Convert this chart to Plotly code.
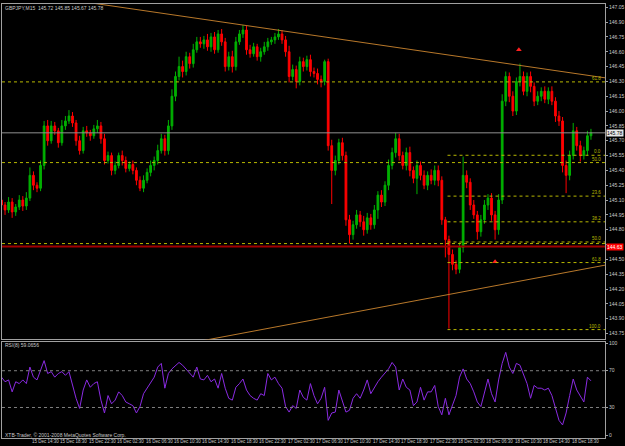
import plotly.graph_objects as go

# ---------------- data (30-min sampling of the GBPJPY M15 chart) ----------------
first_open = 145.10
closes = [
    145.05, 145.00, 145.08, 144.98, 145.03, 145.10, 145.04, 145.12,
    145.35, 145.25, 145.22, 145.45,
    145.85, 145.70, 145.85, 145.80, 145.68, 145.85, 145.90, 145.95, 145.88, 145.70, 145.60,
    145.80, 145.78, 145.75, 145.82, 145.85, 145.72, 145.50, 145.55, 145.40,
    145.45, 145.55, 145.50, 145.42, 145.46, 145.40, 145.30, 145.22,
    145.30, 145.38, 145.45, 145.50, 145.60, 145.72, 145.60, 145.85,
    146.15, 146.35, 146.45, 146.40, 146.55, 146.48, 146.62, 146.70,
    146.68, 146.72, 146.65, 146.75, 146.62, 146.78, 146.70, 146.45,
    146.55, 146.45, 146.70, 146.78, 146.82, 146.62, 146.58, 146.65,
    146.55, 146.60, 146.65, 146.70, 146.72, 146.75, 146.78, 146.72,
    146.60, 146.35, 146.42, 146.30, 146.50, 146.45, 146.52, 146.40,
    146.38, 146.32, 146.30, 146.50, 145.65, 145.40, 145.50, 145.68,
    145.55, 144.90, 144.75, 144.85, 144.95, 144.88, 144.80, 144.92,
    144.85, 145.00, 145.15, 145.08, 145.25, 145.45, 145.58, 145.72,
    145.55, 145.45, 145.58, 145.40, 145.32, 145.45, 145.35, 145.25,
    145.35, 145.30, 145.40, 145.30, 144.90, 144.70, 144.55, 144.45,
    144.40, 144.62, 145.35, 145.28, 145.05, 144.95, 144.78, 144.90,
    145.05, 145.12, 144.95, 144.80, 145.10, 146.10, 146.35, 146.15,
    146.00, 146.30, 146.35, 146.20, 146.35, 146.25, 146.10, 146.15,
    146.20, 146.12, 146.20, 146.10, 145.95, 145.90, 145.45, 145.35,
    145.55, 145.80, 145.65, 145.55, 145.60, 145.75, 145.78,
]
upper_wick = [
    0.04, 0.03, 0.05, 0.04, 0.03, 0.05, 0.04, 0.06,
    0.08, 0.04, 0.03, 0.05,
    0.05, 0.06, 0.05, 0.04, 0.03, 0.06, 0.05, 0.06, 0.04, 0.03, 0.05,
    0.04, 0.05, 0.03, 0.04, 0.06, 0.04, 0.05, 0.04, 0.03,
    0.04, 0.03, 0.05, 0.04, 0.03, 0.04, 0.03, 0.04,
    0.05, 0.04, 0.05, 0.04, 0.06, 0.05, 0.04, 0.06,
    0.07, 0.05, 0.10, 0.06, 0.05, 0.04, 0.06, 0.05,
    0.05, 0.04, 0.06, 0.04, 0.05, 0.04, 0.05, 0.04,
    0.05, 0.06, 0.05, 0.04, 0.05, 0.04, 0.05, 0.04,
    0.03, 0.04, 0.05, 0.04, 0.03, 0.04, 0.05, 0.04,
    0.04, 0.06, 0.05, 0.04, 0.05, 0.04, 0.04, 0.05,
    0.04, 0.05, 0.04, 0.02, 0.03, 0.06, 0.05, 0.04,
    0.05, 0.04, 0.05, 0.04, 0.05, 0.04, 0.06, 0.05,
    0.04, 0.05, 0.04, 0.05, 0.04, 0.06, 0.05, 0.06,
    0.05, 0.04, 0.05, 0.06, 0.04, 0.05, 0.04, 0.05,
    0.04, 0.06, 0.05, 0.05, 0.04, 0.03, 0.04, 0.05,
    0.04, 0.05, 0.19, 0.05, 0.04, 0.05, 0.04, 0.05,
    0.05, 0.04, 0.05, 0.04, 0.06, 0.07, 0.05, 0.04,
    0.05, 0.04, 0.13, 0.05, 0.04, 0.05, 0.04, 0.05,
    0.04, 0.05, 0.04, 0.05, 0.04, 0.05, 0.04, 0.05,
    0.05, 0.08, 0.04, 0.05, 0.04, 0.05, 0.04,
]
lower_wick = [
    0.04, 0.05, 0.03, 0.06, 0.04, 0.03, 0.05, 0.04,
    0.03, 0.05, 0.04, 0.03,
    0.04, 0.05, 0.03, 0.04, 0.05, 0.03, 0.04, 0.03, 0.04, 0.05, 0.04,
    0.03, 0.04, 0.05, 0.03, 0.04, 0.05, 0.04, 0.03, 0.05,
    0.04, 0.03, 0.05, 0.04, 0.03, 0.04, 0.05, 0.03,
    0.04, 0.03, 0.04, 0.05, 0.04, 0.03, 0.05, 0.04,
    0.04, 0.05, 0.04, 0.06, 0.04, 0.05, 0.04, 0.03,
    0.04, 0.05, 0.04, 0.05, 0.04, 0.03, 0.04, 0.05,
    0.04, 0.06, 0.04, 0.03, 0.04, 0.05, 0.04, 0.03,
    0.04, 0.05, 0.03, 0.04, 0.03, 0.04, 0.03, 0.04,
    0.05, 0.06, 0.04, 0.07, 0.04, 0.05, 0.04, 0.05,
    0.04, 0.05, 0.06, 0.04, 0.05, 0.34, 0.05, 0.04,
    0.05, 0.06, 0.09, 0.05, 0.04, 0.05, 0.06, 0.04,
    0.05, 0.04, 0.09, 0.05, 0.04, 0.05, 0.04, 0.05,
    0.05, 0.04, 0.05, 0.06, 0.05, 0.16, 0.05, 0.04,
    0.05, 0.04, 0.05, 0.06, 0.05, 0.18, 0.75, 0.06,
    0.05, 0.04, 0.05, 0.06, 0.05, 0.04, 0.08, 0.05,
    0.04, 0.05, 0.06, 0.10, 0.05, 0.04, 0.05, 0.06,
    0.05, 0.04, 0.05, 0.04, 0.05, 0.06, 0.05, 0.04,
    0.05, 0.04, 0.05, 0.04, 0.06, 0.05, 0.07, 0.18,
    0.05, 0.04, 0.05, 0.06, 0.04, 0.05, 0.04,
]
rsi = [
    63, 58, 60, 47, 58, 56, 60, 56,
    74, 63, 60, 70,
    81, 67, 69, 63, 67, 69, 65, 69, 54, 40, 29,
    49, 60, 52, 56, 58, 38, 24, 43, 34,
    38, 47, 43, 36, 34, 32, 24, 31,
    45, 51, 58, 63, 74, 78, 51, 67,
    72, 76, 79, 76, 72, 67, 63, 74,
    61, 60, 65, 58, 61, 51, 67, 51,
    40, 38, 52, 56, 61, 49, 43, 40,
    38, 45, 43, 67, 60, 63, 56, 51,
    31, 25, 32, 29, 49, 41, 38, 56,
    43, 34, 40, 52, 16, 24, 25, 49,
    38, 25, 27, 40, 45, 40, 49, 60,
    45, 52, 58, 63, 67, 72, 79, 74,
    49, 61, 52, 49, 32, 36, 52, 38,
    47, 47, 54, 31, 22, 40, 22, 32,
    43, 63, 72, 61, 56, 47, 36, 31,
    47, 61, 45, 36, 60, 78, 90, 74,
    67, 78, 76, 67, 56, 40, 54, 51,
    51, 49, 51, 43, 29, 16, 11, 24,
    43, 61, 49, 43, 36, 63, 59,
]
time_labels = ["15 Dec 2009", "15 Dec 14:30", "15 Dec 18:30", "15 Dec 22:30",
               "16 Dec 02:30", "16 Dec 06:30", "16 Dec 10:30", "16 Dec 14:30",
               "16 Dec 18:30", "16 Dec 22:30", "17 Dec 02:30", "17 Dec 06:30",
               "17 Dec 10:30", "17 Dec 14:30", "17 Dec 18:30", "17 Dec 22:30",
               "18 Dec 02:30", "18 Dec 06:30", "18 Dec 10:30", "18 Dec 14:30",
               "18 Dec 18:30"]
time_label_bars = [0, 8, 16, 24, 32, 40, 48, 56, 64, 72, 80, 88, 96, 104,
                   112, 120, 128, 136, 144, 152, 160]
price_ticks = [143.75, 143.90, 144.05, 144.20, 144.35, 144.50, 144.65, 144.80,
               144.95, 145.10, 145.25, 145.40, 145.55, 145.70, 145.85, 146.00,
               146.15, 146.30, 146.45, 146.60, 146.75, 146.90, 147.05]
hidden_price_ticks = [144.65]   # covered by the red price box in the reference
rsi_ticks = [0, 30, 70, 100]

# Fibonacci sets (level label, price)
fibo_full = [("61.8", 146.295), ("50.0", 145.479), ("38.2", 144.66)]
fibo_right = [("0.0", 145.553), ("23.6", 145.14), ("38.2", 144.88),
              ("50.0", 144.676), ("61.8", 144.468), ("100.0", 143.79)]
fibo_right_start = 125.6
# trend lines (bar index, price)
upper_trend = [(0, 147.226), (170, 146.336)]
lower_trend = [(55, 143.667), (170, 144.442)]
arrow_bars = [145.7, 139.0]
arrow_prices = [146.62, 144.475]
bid_price = 145.78
red_level = 144.63

assert len(closes) == len(upper_wick) == len(lower_wick) == len(rsi)

n = len(closes)
bars = list(range(n))
opens = [first_open] + closes[:-1]
highs = [max(o, c) + w for o, c, w in zip(opens, closes, upper_wick)]
lows = [min(o, c) - w for o, c, w in zip(opens, closes, lower_wick)]

# ---------------- figure ----------------
XL, XR = 2 / 625, 607 / 625
MAIN = [1 - 339 / 446, 1 - 2 / 446]
RSID = [1 - 437.5 / 446, 1 - 341.5 / 446]
XRANGE = [0.14, 169.97]
FONT = "Liberation Sans"
TXT = "#c8c8c8"
FIB = "#b8b800"
TREND = "#b8782a"

fig = go.Figure()
fig.add_trace(go.Candlestick(
    x=bars, open=opens, high=highs, low=lows, close=closes,
    increasing=dict(line=dict(color="#00b000", width=1), fillcolor="#00b000"),
    decreasing=dict(line=dict(color="#ff0000", width=1), fillcolor="#ff0000"),
    whiskerwidth=0, xaxis="x", yaxis="y", showlegend=False, hoverinfo="skip"))
fig.add_trace(go.Scatter(
    x=arrow_bars, y=arrow_prices, mode="markers",
    marker=dict(symbol="triangle-up", size=5, color="#ff2020"),
    xaxis="x", yaxis="y", showlegend=False, hoverinfo="skip"))
fig.add_trace(go.Scatter(
    x=bars, y=rsi, mode="lines", line=dict(color="#8a2be2", width=1),
    xaxis="x2", yaxis="y2", showlegend=False, hoverinfo="skip"))

shapes = []
for lab, p in fibo_full:
    shapes.append(dict(type="line", xref="x", yref="y", x0=XRANGE[0], x1=XRANGE[1],
                       y0=p, y1=p, line=dict(color=FIB, width=1, dash="dot")))
for lab, p in fibo_right:
    shapes.append(dict(type="line", xref="x", yref="y", x0=fibo_right_start, x1=XRANGE[1],
                       y0=p, y1=p, line=dict(color=FIB, width=1, dash="dot")))
shapes.append(dict(type="line", xref="x", yref="y", x0=XRANGE[0], x1=XRANGE[1],
                   y0=bid_price, y1=bid_price, line=dict(color="#909090", width=1)))
shapes.append(dict(type="line", xref="x", yref="y", x0=XRANGE[0], x1=XRANGE[1],
                   y0=red_level, y1=red_level, line=dict(color="#a00000", width=2)))
for tl in (upper_trend, lower_trend):
    shapes.append(dict(type="line", xref="x", yref="y", x0=tl[0][0], y0=tl[0][1],
                       x1=tl[1][0], y1=tl[1][1], line=dict(color=TREND, width=1)))
for lv in (30, 70):
    shapes.append(dict(type="line", xref="x2", yref="y2", x0=XRANGE[0], x1=XRANGE[1],
                       y0=lv, y1=lv, line=dict(color="#808080", width=1, dash="dot")))

ann = []
ann.append(dict(text="GBPJPY,M15  145.72 145.85 145.67 145.78", xref="paper", yref="paper",
                x=3 / 625, y=1 - 6 / 446, xanchor="left", yanchor="middle", showarrow=False,
                font=dict(family=FONT, size=5, color=TXT)))
ann.append(dict(text="RSI(8) 59.0656", xref="paper", yref="paper",
                x=3 / 625, y=1 - 344.5 / 446, xanchor="left", yanchor="middle", showarrow=False,
                font=dict(family=FONT, size=5, color=TXT)))
ann.append(dict(text="XTB-Trader, © 2001-2008 MetaQuotes Software Corp.", xref="paper",
                yref="paper", x=3 / 625, y=1 - 434.5 / 446, xanchor="left", yanchor="middle",
                showarrow=False, font=dict(family=FONT, size=5, color=TXT)))
for lab, b in zip(time_labels, time_label_bars):
    ann.append(dict(text=lab, xref="x2", yref="paper", x=b, y=1 - 441.5 / 446,
                    xanchor="left", yanchor="middle", showarrow=False,
                    font=dict(family=FONT, size=4.5, color=TXT)))
for lab, p in fibo_full[:2] + fibo_right:
    ann.append(dict(text=lab, xref="paper", yref="y", x=605 / 625, y=p, xanchor="right",
                    yanchor="bottom", yshift=-1, showarrow=False,
                    font=dict(family=FONT, size=4.5, color=FIB)))
ann.append(dict(text=f"{bid_price:.2f}", xref="paper", yref="y", x=608 / 625, y=bid_price,
                xanchor="left", yanchor="middle", showarrow=False, bgcolor="#e8e8e8",
                borderpad=0, font=dict(family=FONT, size=5, color="#000000")))
ann.append(dict(text=f"{red_level:.2f}", xref="paper", yref="y", x=608 / 625, y=red_level,
                xanchor="left", yanchor="middle", showarrow=False, bgcolor="#ff0000",
                borderpad=0, font=dict(family=FONT, size=5, color="#ffffff")))

axis_common = dict(showgrid=False, zeroline=False, showline=True, mirror=True,
                   linecolor="#a0a0a0", linewidth=1)
fig.update_layout(
    width=625, height=446, margin=dict(l=0, r=0, t=0, b=0),
    paper_bgcolor="#000000", plot_bgcolor="#000000",
    shapes=shapes, annotations=ann, showlegend=False,
    xaxis=dict(domain=[XL, XR], range=XRANGE, anchor="y", showticklabels=False,
               ticks="", rangeslider=dict(visible=False), **axis_common),
    yaxis=dict(domain=MAIN, range=[143.69, 147.083], anchor="x", side="right",
               tickvals=price_ticks,
               ticktext=["" if v in hidden_price_ticks else f"{v:.2f}" for v in price_ticks],
               ticks="outside", ticklen=2, tickcolor="#a0a0a0",
               tickfont=dict(family=FONT, size=5, color=TXT), **axis_common),
    xaxis2=dict(domain=[XL, XR], range=XRANGE, anchor="y2", showticklabels=False,
                ticks="", **axis_common),
    yaxis2=dict(domain=RSID, range=[-2.7, 101.3], anchor="x2", side="right",
                tickvals=rsi_ticks, ticktext=[str(v) for v in rsi_ticks],
                ticks="outside", ticklen=2, tickcolor="#a0a0a0",
                tickfont=dict(family=FONT, size=5, color=TXT), **axis_common),
)
fig.write_html("out.html")
